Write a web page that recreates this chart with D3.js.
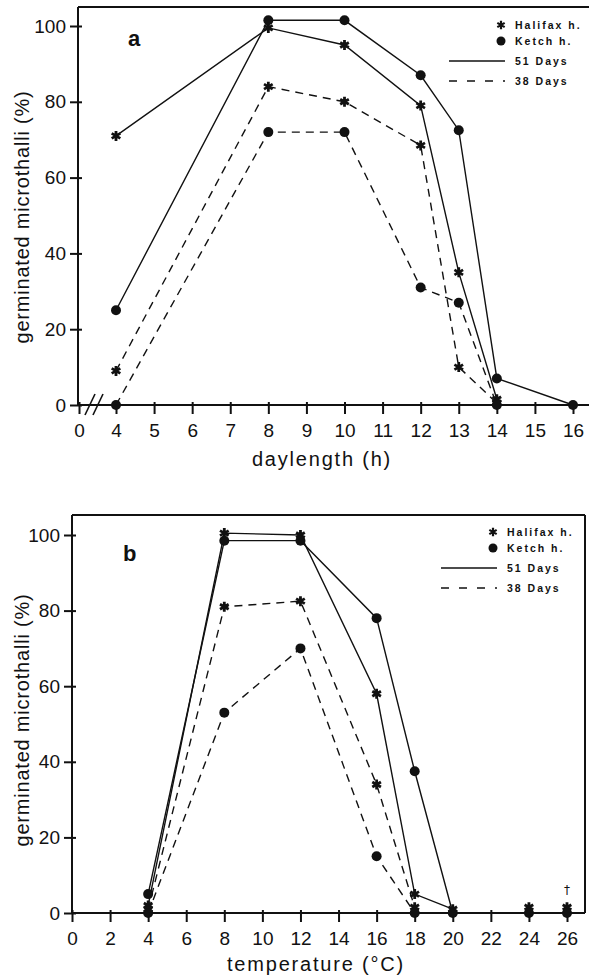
<!DOCTYPE html>
<html>
<head>
<meta charset="utf-8">
<script src="https://cdn.jsdelivr.net/npm/d3@7"></script>
<style>
body { margin: 0; background: #fff; }
svg { display: block; font-family: "Liberation Sans", Arial, sans-serif; }
.tick text { font-size: 19px; fill: #111; }
.lab { font-size: 20px; fill: #111; letter-spacing: 0.8px; }
.xlab { letter-spacing: 1.8px; }
.leg { font-size: 10.5px; font-weight: bold; fill: #111; letter-spacing: 2px; }
</style>
</head>
<body>
<svg width="589" height="976"></svg>
<script>
// panel a: daylength (h)
const dayTicks = [0, 4, 5, 6, 7, 8, 9, 10, 11, 12, 13, 14, 15, 16];
const dayHours = [4, 8, 10, 12, 13, 14];
const dayHalifax51 = [71, 99.5, 95, 79, 35, 1.5];
const dayHalifax38 = [9, 84, 80, 68.5, 10, 0.5];
const dayKetchHours = [4, 8, 10, 12, 13, 14, 16];
const dayKetch51 = [25, 101.5, 101.5, 87, 72.5, 7, 0];
const dayKetch38 = [0, 72, 72, 31, 27, 0];

// panel b: temperature (°C)
const tempTicks = [0, 2, 4, 6, 8, 10, 12, 14, 16, 18, 20, 22, 24, 26];
const temps51 = [4, 8, 12, 16, 18, 20];
const tempHalifax51 = [2, 100.5, 100, 58, 5, 1];
const tempKetch51 = [5, 98.5, 98.5, 78, 37.5, 0];
const temps38 = [4, 8, 12, 16, 18];
const tempHalifax38 = [1, 81, 82.5, 34, 1.5];
const tempKetch38 = [0, 53, 70, 15, 0];
const tempExtra = [24, 26];
const tempExtraHalifax = [1.5, 1.5];
const tempExtraKetch = [0, 0];

const yTicks = [0, 20, 40, 60, 80, 100];

const svg = d3.select('svg');
const ink = '#111';
const star = d3.symbol().type(d3.symbolAsterisk).size(70);

function zip(xs, ys) { return xs.map((x, i) => [x, ys[i]]); }

function drawPanel(p) {
    const g = svg.append('g');
    const x = p.x, y = p.y;
    const [x0, x1] = p.xExtent;
    const [yTop, yBot] = p.yExtent;

    // frame
    g.append('line').attr('x1', x0).attr('x2', x0).attr('y1', yTop).attr('y2', yBot);
    g.append('line').attr('x1', x0).attr('x2', x1).attr('y1', yTop).attr('y2', yTop);
    g.append('line').attr('x1', x0).attr('x2', x1).attr('y1', yBot).attr('y2', yBot);
    if (p.rightBorder)
        g.append('line').attr('x1', x1).attr('x2', x1).attr('y1', yTop).attr('y2', yBot);
    g.selectAll('line').attr('stroke', ink).attr('stroke-width', 2);

    const ax = g.append('g')
        .attr('transform', `translate(0,${yBot})`)
        .call(d3.axisBottom(x).tickValues(p.xTicks).tickSize(9).tickPadding(10).tickFormat(d3.format('d')));
    ax.select('.domain').remove();
    ax.selectAll('.tick line').attr('y1', -3).attr('stroke', ink).attr('stroke-width', 2);

    const ay = g.append('g')
        .attr('transform', `translate(${x0},0)`)
        .call(d3.axisLeft(y).tickValues(yTicks).tickSize(8).tickPadding(4));
    ay.select('.domain').remove();
    ay.selectAll('.tick line').attr('x1', 4).attr('stroke', ink).attr('stroke-width', 2);
    g.selectAll('.tick text').attr('font-family', null);

    const line = d3.line().x(d => x(d[0])).y(d => y(d[1]));
    p.series.forEach(s => {
        g.append('path')
            .attr('d', line(s.pts))
            .attr('fill', 'none')
            .attr('stroke', ink)
            .attr('stroke-width', 1.4)
            .attr('stroke-dasharray', s.dash ? '8,6' : null);
    });
    p.series.concat(p.extra || []).forEach(s => {
        if (s.mark === 'dot') {
            g.selectAll(null).data(s.pts).enter().append('circle')
                .attr('cx', d => x(d[0])).attr('cy', d => y(d[1])).attr('r', 5).attr('fill', ink);
        } else {
            g.selectAll(null).data(s.pts).enter().append('path')
                .attr('d', star)
                .attr('transform', d => `translate(${x(d[0])},${y(d[1])})`)
                .attr('stroke', ink).attr('stroke-width', 2.8).attr('fill', 'none');
        }
    });

    g.append('text').attr('x', p.tag[0]).attr('y', p.tag[1])
        .attr('font-size', 22).attr('font-weight', 'bold').attr('fill', ink).text(p.tagText);

    g.append('text').attr('class', 'lab xlab')
        .attr('x', p.xLabel[0]).attr('y', p.xLabel[1]).attr('text-anchor', 'middle')
        .text(p.xLabelText);
    g.append('text').attr('class', 'lab')
        .attr('transform', `translate(${p.yLabel[0]},${p.yLabel[1]}) rotate(-90)`)
        .attr('text-anchor', 'middle').text('germinated microthalli (%)');

    // legend
    const [lx, ly] = p.legend;
    g.append('path').attr('d', star)
        .attr('stroke', ink).attr('stroke-width', 2.6).attr('fill', 'none')
        .attr('transform', `translate(${lx},${ly}) scale(0.85)`);
    g.append('circle').attr('cx', lx).attr('cy', ly + 16).attr('r', 4.5).attr('fill', ink);
    g.append('line').attr('x1', lx - 52).attr('x2', lx + 4).attr('y1', ly + 36).attr('y2', ly + 36)
        .attr('stroke', ink).attr('stroke-width', 1.6);
    g.append('line').attr('x1', lx - 52).attr('x2', lx + 4).attr('y1', ly + 56).attr('y2', ly + 56)
        .attr('stroke', ink).attr('stroke-width', 1.6).attr('stroke-dasharray', '8,10');
    ['Halifax h.', 'Ketch h.', '51 Days', '38 Days'].forEach((t, i) => {
        g.append('text').attr('class', 'leg')
            .attr('x', lx + 14).attr('y', ly + [0, 16, 36, 56][i] + 4).text(t);
    });
    return g;
}

// panel a
const xa = d3.scaleLinear().domain([0, 4, 16]).range([79, 116, 573]);
const ya = d3.scaleLinear().domain([0, 100]).range([405, 26]);
const ga = drawPanel({
    x: xa, y: ya, xExtent: [78, 589], yExtent: [7, 405], rightBorder: false,
    xTicks: dayTicks,
    series: [
        { pts: zip(dayHours, dayHalifax51), mark: 'star', dash: false },
        { pts: zip(dayKetchHours, dayKetch51), mark: 'dot', dash: false },
        { pts: zip(dayHours, dayHalifax38), mark: 'star', dash: true },
        { pts: zip(dayHours, dayKetch38), mark: 'dot', dash: true }
    ],
    tag: [128, 46], tagText: 'a',
    xLabel: [322, 466], xLabelText: 'daylength (h)',
    yLabel: [29, 217],
    legend: [501, 25]
});
// axis break
[0, 8].forEach(dx => {
    ga.append('line').attr('x1', 85 + dx).attr('y1', 415).attr('x2', 95 + dx).attr('y2', 394)
        .attr('stroke', ink).attr('stroke-width', 1.6);
});

// panel b
const xb = d3.scaleLinear().domain([0, 26]).range([72, 567]);
const yb = d3.scaleLinear().domain([0, 100]).range([913, 535]);
const gb = drawPanel({
    x: xb, y: yb, xExtent: [72, 585], yExtent: [515, 913], rightBorder: true,
    xTicks: tempTicks,
    series: [
        { pts: zip(temps51, tempHalifax51), mark: 'star', dash: false },
        { pts: zip(temps51, tempKetch51), mark: 'dot', dash: false },
        { pts: zip(temps38, tempHalifax38), mark: 'star', dash: true },
        { pts: zip(temps38, tempKetch38), mark: 'dot', dash: true }
    ],
    extra: [
        { pts: zip(tempExtra, tempExtraHalifax), mark: 'star' },
        { pts: zip(tempExtra, tempExtraKetch), mark: 'dot' }
    ],
    tag: [123, 561], tagText: 'b',
    xLabel: [316, 971], xLabelText: 'temperature (°C)',
    yLabel: [29, 720],
    legend: [493, 532]
});
gb.append('text').attr('x', xb(26)).attr('y', yb(0) - 19).attr('text-anchor', 'middle')
    .attr('font-family', 'DejaVu Sans').attr('font-size', 12).attr('fill', ink).text('\u2020');
</script>
</body>
</html>
